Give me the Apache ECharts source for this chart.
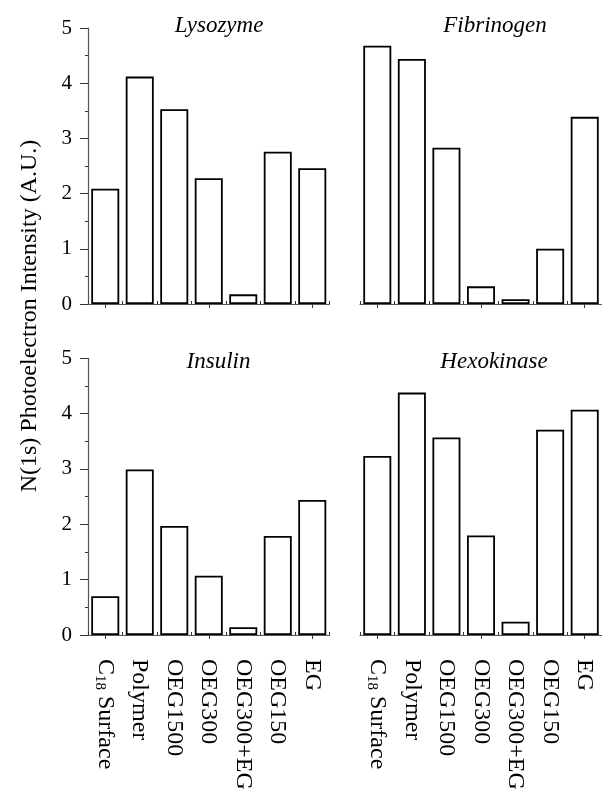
<!DOCTYPE html>
<html>
<head>
<meta charset="utf-8">
<script src="https://cdn.jsdelivr.net/npm/echarts@6/dist/echarts.min.js"></script>
<style>
html,body{margin:0;padding:0;background:#fff;}
#chart{width:602px;height:789px;}
</style>
</head>
<body>
<div id="chart"></div>
<script>
const categories = ['C18 Surface', 'Polymer', 'OEG1500', 'OEG300', 'OEG300+EG', 'OEG150', 'EG'];
const panelTitles = ['Lysozyme', 'Fibrinogen', 'Insulin', 'Hexokinase'];
const lysozyme   = [2.09, 4.12, 3.53, 2.28, 0.175, 2.76, 2.46];
const fibrinogen = [4.68, 4.44, 2.83, 0.32, 0.085, 1.00, 3.39];
const insulin    = [0.70, 2.99, 1.97, 1.07, 0.14, 1.79, 2.44];
const hexokinase = [3.235, 4.38, 3.57, 1.80, 0.24, 3.71, 4.07];
const yTicks = [0, 1, 2, 3, 4, 5];
const yAxisTitle = 'N(1s) Photoelectron Intensity (A.U.)';

const FONT = "'Liberation Serif', 'Times New Roman', serif";
const panelData = [lysozyme, fibrinogen, insulin, hexokinase];

const grids = [
  {left: 88, width: 241.5, top: 28, height: 276},
  {left: 360, width: 242, top: 28, height: 276},
  {left: 88, width: 241.5, top: 358.3, height: 276.7},
  {left: 360, width: 242, top: 358.3, height: 276.7}
].map(g => Object.assign(g, {containLabel: false, outerBoundsMode: 'none'}));
const titlePos = [[219, 14], [495, 14], [218.5, 350], [494, 350]];

const option = {
  backgroundColor: '#fff',
  animation: false,
  grid: grids,
  title: panelTitles.map((t, i) => ({
    text: t,
    left: titlePos[i][0],
    top: titlePos[i][1],
    textAlign: 'center',
    padding: 0,
    textStyle: {fontFamily: FONT, fontStyle: 'italic', fontWeight: 'normal', fontSize: 23, color: '#000'}
  })),
  xAxis: [],
  yAxis: [],
  series: [],
  graphic: [{
    type: 'text',
    x: 30, y: 316,
    rotation: Math.PI / 2,
    style: {text: yAxisTitle, font: "24px " + FONT, fill: '#000', textAlign: 'center', textVerticalAlign: 'middle'}
  }]
};

for (let i = 0; i < 4; i++) {
  const showY = (i % 2 === 0);
  // main category axis: boundary ticks + labels
  option.xAxis.push({
    type: 'category', gridIndex: i, data: categories, boundaryGap: true, position: 'bottom',
    axisLine: {show: true, lineStyle: {color: '#555', width: 1.2}},
    axisTick: {show: true, inside: true, length: 3, lineStyle: {color: '#333', width: 1}},
    axisLabel: {
      show: i >= 2, rotate: -90, margin: 24, interval: 0, hideOverlap: false,
      fontFamily: FONT, fontSize: 24, color: '#000',
      formatter: v => v === 'C18 Surface' ? '{n|C}{s|18}{n| Surface}' : '{n|' + v + '}',
      rich: {
        n: {fontFamily: FONT, fontSize: 24, color: '#000'},
        s: {fontFamily: FONT, fontSize: 15, color: '#000', padding: [10, 0, 0, 0]}
      }
    },
    splitLine: {show: false}
  });
  // secondary axis: center ticks
  option.xAxis.push({
    type: 'category', gridIndex: i, data: categories, boundaryGap: true, position: 'bottom', offset: 0,
    axisLine: {show: false},
    axisTick: {show: true, alignWithLabel: true, length: 4, lineStyle: {color: '#333', width: 1}},
    axisLabel: {show: false},
    splitLine: {show: false}
  });
  option.yAxis.push({
    type: 'value', gridIndex: i, min: yTicks[0], max: yTicks[yTicks.length - 1], interval: 1,
    axisLine: {show: showY, lineStyle: {color: '#555', width: 1.2}},
    axisTick: {show: showY, length: 8, lineStyle: {color: '#333', width: 1}},
    minorTick: {show: showY, splitNumber: 2, length: 3, lineStyle: {color: '#333', width: 1}},
    axisLabel: {show: showY, margin: 16, fontFamily: FONT, fontSize: 21, color: '#000'},
    splitLine: {show: false}
  });
  option.series.push({
    type: 'bar', xAxisIndex: i * 2, yAxisIndex: i,
    data: panelData[i], barWidth: 28,
    itemStyle: {color: '#fff', borderColor: '#000', borderWidth: 1.8},
    silent: true
  });
}

const chart = echarts.init(document.getElementById('chart'), null, {renderer: 'canvas'});
chart.setOption(option);
</script>
</body>
</html>
